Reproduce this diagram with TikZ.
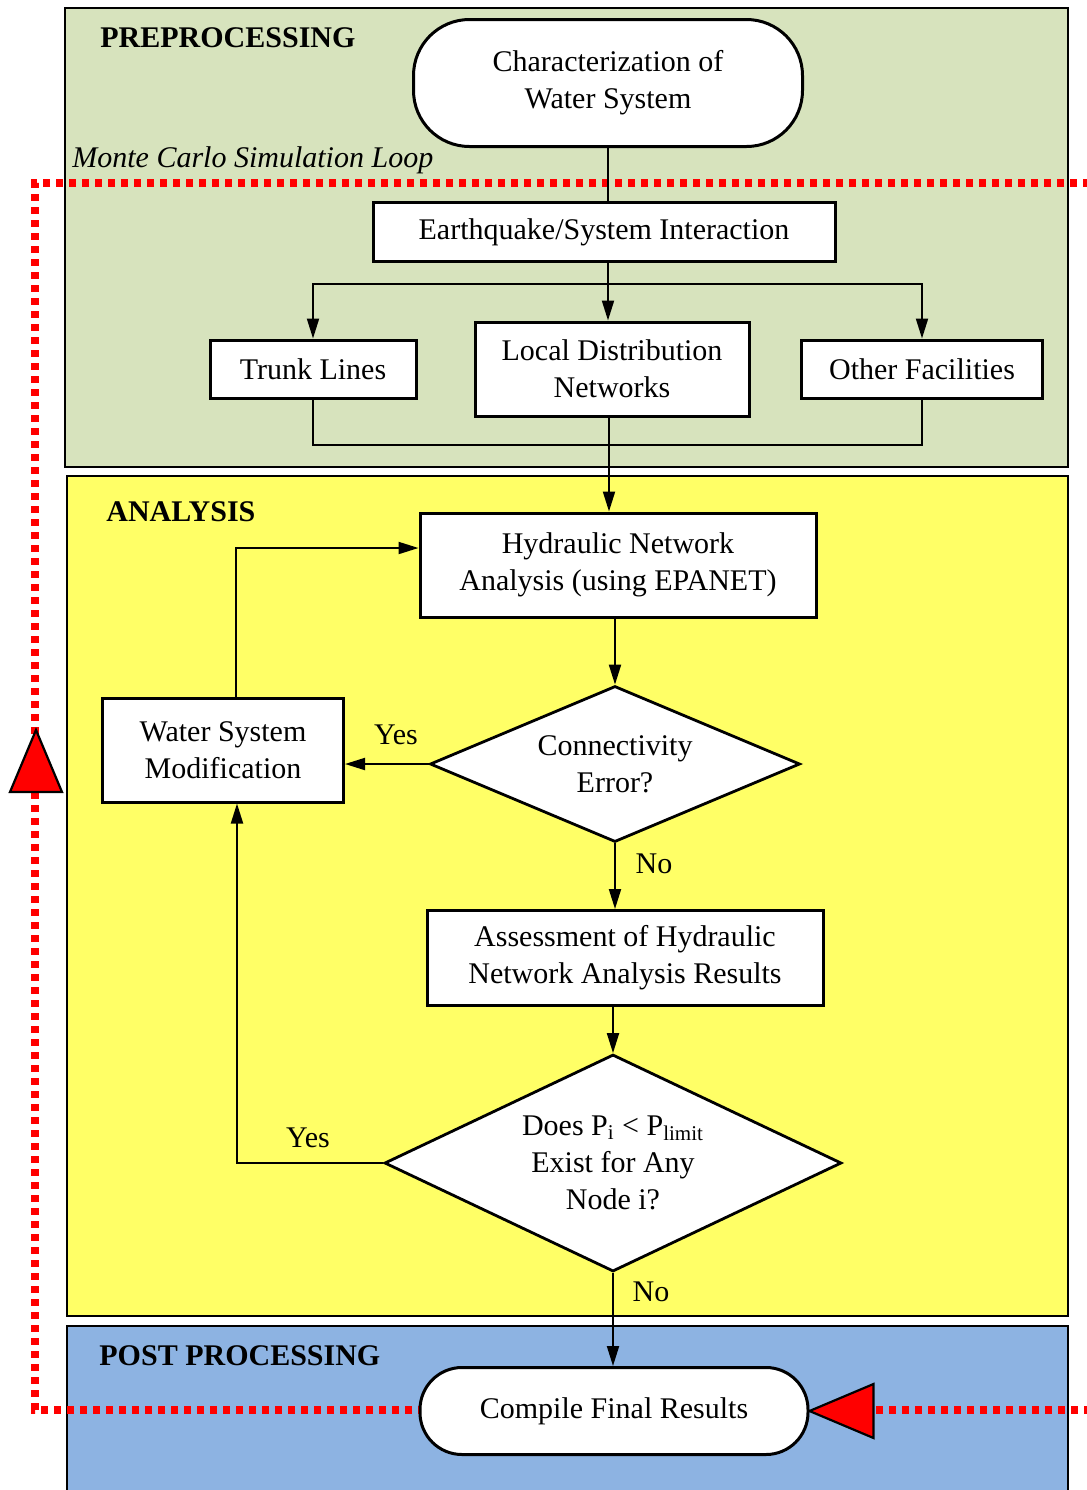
\documentclass[tikz,border=0pt]{standalone}
\usepackage{fontspec}
\setmainfont{Liberation Serif}
\usetikzlibrary{shapes.geometric,arrows.meta,calc}
\definecolor{pregreen}{RGB}{215,227,189}
\definecolor{anyellow}{RGB}{255,255,102}
\definecolor{postblue}{RGB}{141,179,226}
\definecolor{loopred}{RGB}{255,0,0}
\tikzset{
  panel/.style={draw=black, line width=1.1pt},
  box/.style={draw=black, line width=1.5pt, fill=white, align=center, inner sep=0pt},
  term/.style={box, rounded corners=#1},
  decision/.style={diamond, draw=black, line width=1.4pt, fill=white, align=center, inner sep=0pt, aspect=2.3},
  conn/.style={draw=black, line width=1pt},
  arr/.style={conn, -{Triangle[length=10pt,width=6pt]}},
  heading/.style={anchor=west, font=\fontsize{15}{18}\selectfont\bfseries, inner sep=0pt},
  lbl/.style={font=\fontsize{15}{18}\selectfont, inner sep=0pt},
  loopline/.style={draw=loopred, line width=4pt, dash pattern=on 3.5pt off 3pt},
  looptip/.style={fill=loopred, draw=black, line width=1.1pt, line join=miter}
}
\begin{document}
\begin{tikzpicture}[x=0.5pt,y=-0.5pt,font=\fontsize{15}{18.5}\selectfont]
\useasboundingbox (0,0) rectangle (1087,1490);

% panels
\path[panel, fill=pregreen] (65,8) rectangle (1068,467);
\path[panel, fill=anyellow] (67,476) rectangle (1068,1316);
\path[panel, fill=postblue] (67,1326) rectangle (1068,1500);

\node[heading] (hpre) at (100,38) {PREPROCESSING};
\node[heading] (hana) at (106,512) {ANALYSIS};
\node[heading] (hpost) at (99,1356) {POST PROCESSING};
\node[anchor=west, inner sep=0pt, font=\fontsize{15}{18}\selectfont\itshape] (mc) at (72,160) {Monte Carlo Simulation Loop};

% Monte Carlo loop
\coordinate (lpTR) at (1090,183);
\coordinate (lpTL) at (35,183);
\coordinate (lpBL) at (35,1410);
\coordinate (lpBR) at (1090,1410);
\draw[loopline] (lpTR) -- (lpTL) -- (lpBL) -- (440,1410);
\draw[loopline] (850,1410) -- (lpBR);

% nodes
\node[term=28pt, minimum width=194.5pt, minimum height=63.5pt] (char) at (608,83) {Characterization of\\Water System};
\node[box, minimum width=231pt, minimum height=29.5pt] (eq) at (604,232) {Earthquake/System Interaction};
\node[box, minimum width=103pt, minimum height=29pt] (trunk) at (313,369) {Trunk Lines};
\node[box, minimum width=137pt, minimum height=47pt] (local) at (612,369) {Local Distribution\\Networks};
\node[box, minimum width=120.5pt, minimum height=29pt] (other) at (922,369) {Other Facilities};
\node[box, minimum width=198pt, minimum height=52pt] (hyd) at (618,565) {Hydraulic Network\\Analysis (using EPANET)};
\node[decision, minimum width=185pt, minimum height=78pt] (c1) at (615,764) {Connectivity\\Error?};
\node[box, minimum width=120.5pt, minimum height=52pt] (wsm) at (223,750) {Water System\\Modification};
\node[box, minimum width=198pt, minimum height=47.5pt] (assess) at (625,958) {Assessment of Hydraulic\\Network Analysis Results};
\node[decision, minimum width=228.5pt, minimum height=108.5pt, aspect=2.1] (c2) at (613,1163) {\raisebox{0pt}{Does P\textsubscript{i} < P\textsubscript{limit}}\\Exist for Any\\Node i?};
\node[term=21pt, minimum width=194pt, minimum height=43.5pt] (comp) at (614,1411) {Compile Final Results};

% red loop markers
\path[looptip] (36,730) -- (62,792) -- (10,792) -- cycle;
\path[looptip] (comp.east) -- ++(64,-27) -- ++(0,54) -- cycle;

% connectors
\draw[conn] (char.south) -- (char.south |- eq.north);
\coordinate (split) at (608,284);
\draw[conn] (char.south |- eq.south) -- (split);
\draw[arr] (split) -| (trunk.north);
\draw[arr] (split) -| (other.north);
\draw[arr] (split) -- (split |- local.north);
\coordinate (merge) at (609,445);
\draw[conn] (trunk.south) |- (merge) -| (other.south);
\draw[arr] (local.south -| merge) -- (merge |- hyd.north);
\draw[arr] (c1.north |- hyd.south) -- (c1.north);
\draw[arr] (c1.west) -- (wsm.east |- c1.west);
\draw[arr] ($(wsm.north)+(13,0)$) |- ($(hyd.west)+(0,-17)$);
\draw[arr] (c1.south) -- (c1.south |- assess.north);
\draw[arr] (c2.north |- assess.south) -- (c2.north);
\draw[arr] (c2.west) -| ($(wsm.south)+(14,0)$);
\draw[arr] (c2.south) -- (c2.south |- comp.north);

% branch labels
\node[lbl] (yes1) at (396,735) {Yes};
\node[lbl] (no1) at (654,864) {No};
\node[lbl] (yes2) at (308,1138) {Yes};
\node[lbl] (no2) at (651,1292) {No};
\end{tikzpicture}
\end{document}
